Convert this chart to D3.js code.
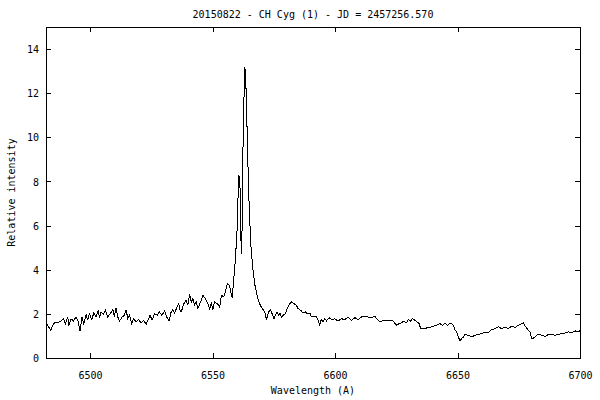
<!DOCTYPE html>
<html>
<head>
<meta charset="utf-8">
<script src="https://cdn.jsdelivr.net/npm/d3@7"></script>
<style>
  html, body { margin: 0; padding: 0; background: #fff; }
  svg { display: block; }
  text { font-family: "DejaVu Sans Mono", "Liberation Mono", monospace; font-size: 10px; fill: #000; }
</style>
</head>
<body>
<svg id="chart" width="600" height="400"></svg>
<script>
// ---- data ----
const titleText = "20150822 - CH Cyg (1) - JD = 2457256.570";
const xLabelText = "Wavelength (A)";
const yLabelText = "Relative intensity";
const xDomain = [6482, 6700];
const yDomain = [0, 15];
const xTicks = [6500, 6550, 6600, 6650, 6700];
const yTicks = [0, 2, 4, 6, 8, 10, 12, 14];

const wavelength = [
 6482.0,6483.1,6483.9,6484.7,6485.8,6486.8,6488.1,6489.1,6489.9,6490.9,6491.3,6492.2,6493.2,6494.3,6495.2,6495.9,6496.7,6497.4,6498.4,6499.0,
 6499.7,6500.7,6501.5,6502.4,6503.3,6503.8,6504.5,6505.4,6506.3,6507.2,6508.2,6509.3,6509.9,6510.6,6511.3,6512.0,6513.1,6514.0,6514.7,6515.4,
 6516.1,6517.0,6517.7,6518.8,6519.8,6520.8,6521.8,6522.9,6523.6,6524.5,6525.3,6526.3,6527.4,6528.3,6529.3,6530.4,6531.3,6532.2,6533.1,6533.8,
 6534.5,6535.4,6536.2,6536.9,6537.2,6538.3,6539.2,6539.9,6540.6,6541.3,6542.0,6542.6,6543.3,6544.0,6545.1,6546.1,6547.0,6547.8,6548.8,6549.5,
 6550.1,6550.8,6551.9,6552.9,6553.6,6554.5,6555.2,6556.0,6556.9,6557.6,6558.0,6558.6,6559.3,6560.0,6560.4,6560.6,6561.0,6561.3,6561.6,6561.8,
 6562.1,6562.4,6562.8,6563.2,6563.6,6564.1,6564.6,6565.1,6565.7,6566.5,6567.3,6568.3,6569.2,6569.9,6570.6,6571.3,6572.0,6572.4,6572.9,6573.7,
 6574.3,6575.1,6575.6,6576.3,6577.0,6577.5,6578.1,6578.8,6579.7,6580.5,6581.5,6582.2,6583.3,6584.2,6584.9,6586.0,6586.9,6587.9,6588.7,6589.7,
 6590.3,6591.0,6591.7,6592.4,6593.1,6593.7,6594.4,6595.1,6595.8,6596.5,6597.6,6598.5,6599.9,6601.2,6602.6,6604.0,6605.3,6606.7,6608.1,6609.4,
 6610.8,6612.1,6613.5,6614.9,6616.2,6617.6,6618.3,6619.6,6621.0,6622.4,6623.7,6625.1,6626.2,6627.1,6628.1,6629.2,6629.9,6630.8,6631.6,6632.6,
 6633.5,6634.4,6634.9,6636.0,6637.4,6638.7,6640.1,6641.5,6642.8,6643.9,6644.9,6645.8,6646.9,6647.6,6648.3,6649.0,6649.6,6650.3,6651.0,6651.7,
 6652.4,6653.0,6654.4,6655.8,6657.1,6658.5,6659.8,6661.2,6662.6,6663.9,6665.3,6666.7,6668.0,6669.4,6670.8,6672.1,6673.5,6674.8,6676.2,6676.9,
 6677.6,6678.9,6679.6,6680.3,6681.4,6682.3,6683.3,6684.4,6685.7,6687.1,6688.5,6689.8,6691.2,6692.6,6693.9,6695.3,6696.7,6698.0,6699.4,6700.0
];
const intensity = [
 1.63,1.41,1.25,1.48,1.63,1.59,1.68,1.78,1.56,1.86,1.44,1.78,1.68,1.86,1.63,1.21,1.86,1.56,1.97,1.71,
 2.01,1.74,2.04,1.86,2.16,1.83,2.09,1.98,2.16,1.86,2.01,2.19,1.86,2.28,1.86,1.68,1.86,1.94,2.19,1.78,
 1.94,1.56,1.78,1.63,1.74,1.59,1.71,1.53,1.71,1.94,1.71,2.01,1.94,2.09,1.94,2.13,1.86,1.68,2.09,2.19,
 2.04,2.28,2.47,2.09,2.09,2.46,2.62,2.39,2.89,2.54,2.69,2.39,2.54,2.24,2.54,2.84,2.69,2.54,2.24,2.47,
 2.19,2.54,2.47,2.31,2.84,2.77,2.99,3.37,3.30,2.92,2.72,3.52,4.43,5.79,7.30,8.29,8.20,7.47,5.34,4.73,
 6.10,9.42,11.70,13.20,12.44,10.33,8.06,6.40,5.03,3.98,3.30,2.77,2.46,2.31,2.19,2.09,1.71,1.93,2.09,2.19,
 2.01,1.78,1.93,2.09,1.93,2.04,1.86,1.94,2.01,2.24,2.46,2.54,2.46,2.39,2.24,2.16,2.04,2.09,2.01,2.04,
 1.86,1.89,1.86,1.89,1.71,1.51,1.74,1.63,1.78,1.68,1.83,1.74,1.78,1.68,1.78,1.74,1.86,1.71,1.83,1.74,
 1.86,1.89,1.86,1.82,1.89,1.71,1.63,1.71,1.68,1.71,1.68,1.48,1.56,1.59,1.68,1.59,1.74,1.68,1.78,1.71,
 1.63,1.56,1.33,1.33,1.36,1.38,1.44,1.48,1.56,1.48,1.59,1.48,1.56,1.56,1.48,1.26,1.18,0.98,0.77,0.88,
 0.95,1.07,1.03,0.95,1.03,1.07,1.10,1.18,1.15,1.29,1.33,1.41,1.33,1.41,1.33,1.44,1.38,1.48,1.56,1.59,
 1.44,1.26,1.18,0.88,0.92,1.03,1.07,1.03,0.98,1.06,1.07,1.03,1.07,1.10,1.13,1.18,1.15,1.23,1.18,1.25
];

// ---- layout ----
const plot = { left: 46, right: 580, top: 27, bottom: 358 };
const tickLen = 5;

const svg = d3.select("#chart");
const x = d3.scaleLinear().domain(xDomain).range([plot.left, plot.right]);
const y = d3.scaleLinear().domain(yDomain).range([plot.bottom, plot.top]);

const data = wavelength.map((w, i) => ({ w, v: intensity[i] }));

// spectrum line (aliased, like the original bitmap plot)
svg.append("path")
  .datum(data)
  .attr("fill", "none")
  .attr("stroke", "#000")
  .attr("stroke-width", 1)
  .attr("shape-rendering", "crispEdges")
  .attr("d", d3.line().x(d => x(d.w)).y(d => y(d.v)));

// axes (inward ticks, mirrored)
const gB = svg.append("g").attr("transform", `translate(0,${plot.bottom})`)
  .call(d3.axisBottom(x).tickValues(xTicks).tickFormat(d3.format("d")).tickSizeInner(-tickLen).tickSizeOuter(0).tickPadding(0));
gB.selectAll("text").attr("y", 21).attr("dy", null);

const gT = svg.append("g").attr("transform", `translate(0,${plot.top})`)
  .call(d3.axisTop(x).tickValues(xTicks).tickSizeInner(-tickLen).tickSizeOuter(0).tickFormat(""));

const gL = svg.append("g").attr("transform", `translate(${plot.left},0)`)
  .call(d3.axisLeft(y).tickValues(yTicks).tickFormat(d3.format("d")).tickSizeInner(-tickLen).tickSizeOuter(0).tickPadding(0));
gL.selectAll("text").attr("x", -7).attr("dy", "0.36em");

const gR = svg.append("g").attr("transform", `translate(${plot.right},0)`)
  .call(d3.axisRight(y).tickValues(yTicks).tickSizeInner(-tickLen).tickSizeOuter(0).tickFormat(""));

[gB, gT, gL, gR].forEach(g => {
  g.select(".domain").remove();
  g.selectAll("line").attr("stroke", "#000").attr("shape-rendering", "crispEdges");
  g.selectAll("text").style("font-family", '"DejaVu Sans Mono", monospace').style("font-size", "10px");
});

// frame
svg.append("rect")
  .attr("x", plot.left).attr("y", plot.top)
  .attr("width", plot.right - plot.left).attr("height", plot.bottom - plot.top)
  .attr("fill", "none").attr("stroke", "#000").attr("stroke-width", 1)
  .attr("shape-rendering", "crispEdges");

// title and labels
svg.append("text").attr("x", (plot.left + plot.right) / 2).attr("y", 18)
  .attr("text-anchor", "middle").text(titleText);
svg.append("text").attr("x", (plot.left + plot.right) / 2).attr("y", 394)
  .attr("text-anchor", "middle").text(xLabelText);
svg.append("text")
  .attr("transform", `translate(15,${(plot.top + plot.bottom) / 2}) rotate(-90)`)
  .attr("text-anchor", "middle").text(yLabelText);
</script>
</body>
</html>
